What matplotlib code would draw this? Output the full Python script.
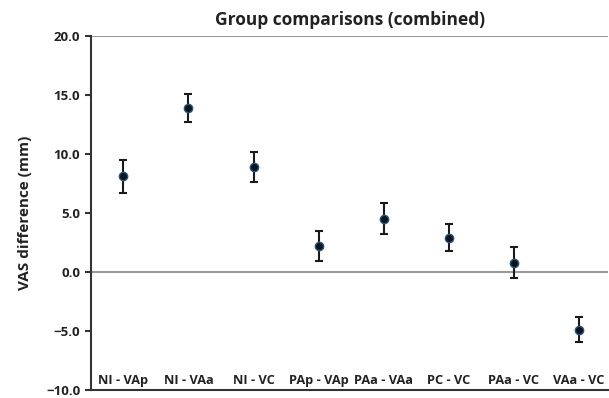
import numpy as np
import matplotlib.pyplot as plt

plt.rcParams['font.family'] = ['Open Sans', 'DejaVu Sans']

# 数据
groups = ["NI - VAp", "NI - VAa", "NI - VC", "PAp - VAp", "PAa - VAa", "PC - VC", "PAa - VC", "VAa - VC"]
diff = [8.1, 13.9, 8.9, 2.2, 4.5, 2.9, 0.8, -4.9]
err = [1.4, 1.2, 1.25, 1.3, 1.3, 1.15, 1.35, 1.05]

fig = plt.figure(figsize=(6.09, 3.98), dpi=100)
ax = fig.add_axes([0.149, 0.02, 0.85, 0.89])

x = np.arange(len(groups))
ax.axhline(0, color="#999999", lw=1.5, zorder=1)
ax.axhline(20, color="#999999", lw=1.5, zorder=1)
ax.errorbar(x, diff, yerr=err, fmt="o", color="#08141f", ms=6, mec="#2d557a",
            ecolor="#1a1a1a", elinewidth=1.5, capsize=3, capthick=1.5, zorder=3)

for xi, g in zip(x, groups):
    ax.text(xi, -9.2, g, ha="center", va="center", fontsize=9.2, fontweight="bold", color="#222222")

ax.set_xlim(-0.5, len(groups) - 0.55)
ax.set_ylim(-10, 20)
ax.set_yticks(np.arange(-10, 21, 5))
ax.set_yticklabels([f"{v:.1f}".replace("-", "\u2212") for v in np.arange(-10, 21, 5)],
                   fontsize=9.5, fontweight="bold", color="#222222")
ax.set_xticks([])
ax.spines["top"].set_visible(False)
ax.spines["right"].set_visible(False)
ax.spines["left"].set_linewidth(1.5)
ax.spines["bottom"].set_linewidth(1.5)
ax.spines["left"].set_color("#333333")
ax.spines["bottom"].set_color("#333333")
ax.tick_params(axis="y", length=4, width=1.5, color="#333333")
ax.set_ylabel("VAS difference (mm)", fontsize=11, fontweight="bold", color="#222222", labelpad=10)
ax.set_title("Group comparisons (combined)", fontsize=12.5, fontweight="bold", color="#222222", pad=8)

fig.savefig("out.png", dpi=100)
